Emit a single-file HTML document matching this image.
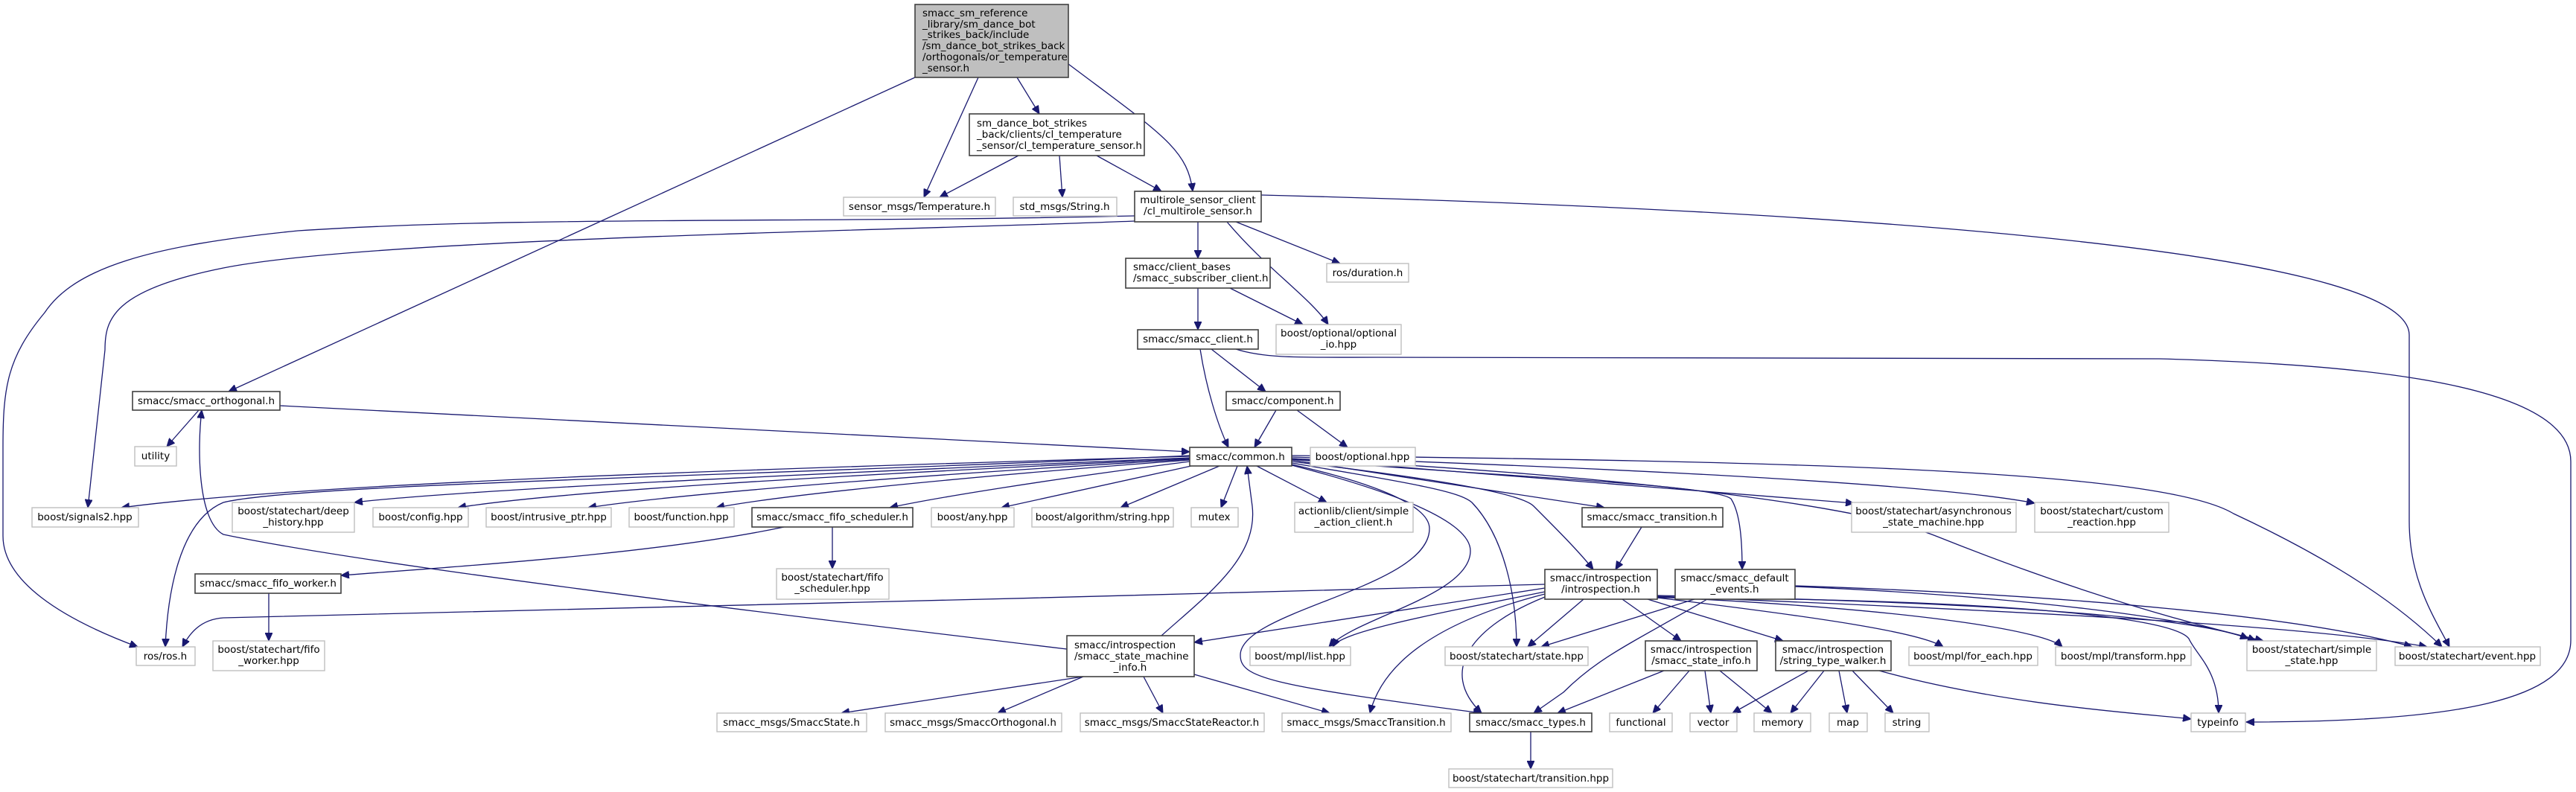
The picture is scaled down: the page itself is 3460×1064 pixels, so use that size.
<!DOCTYPE html>
<html><head><meta charset="utf-8"><style>
html,body{margin:0;padding:0;background:#fff}
svg{display:block}
text{font-family:"DejaVu Sans","Liberation Sans",sans-serif;font-size:13.5px;fill:#000}
.d{fill:#fff;stroke:#404040;stroke-width:1.6}
.e{fill:#fff;stroke:#bfbfbf;stroke-width:1.4}
.g{fill:#bfbfbf;stroke:#404040;stroke-width:1.6}
path.l{fill:none;stroke:#191970;stroke-width:1.3}
</style></head><body>
<svg width="3460" height="1064" viewBox="0 0 3460 1064" xmlns="http://www.w3.org/2000/svg">
<defs><marker id="a" markerUnits="userSpaceOnUse" markerWidth="12" markerHeight="10" refX="11" refY="5" orient="auto"><path d="M0,0 L11,5 L0,10 Z" fill="#191970" stroke="#191970"/></marker></defs>
<g marker-end="url(#a)">
<path class="l" d="M1314,104 L1241,265"/>
<path class="l" d="M1366,104 L1396,153"/>
<path class="l" d="M1435,86 C1560,180 1595,200 1602,257"/>
<path class="l" d="M1229,104 L307,526"/>
<path class="l" d="M1368,209 L1262,265"/>
<path class="l" d="M1423,209 L1427,265"/>
<path class="l" d="M1473,209 L1560,257"/>
<path class="l" d="M1609,298 L1609,347"/>
<path class="l" d="M1660,298 L1800,354"/>
<path class="l" d="M1648,298 C1700,360 1760,400 1784,436"/>
<path class="l" d="M1524,297 C1200,310 500,320 300,360 C150,390 141,430 141,470 L118,682"/>
<path class="l" d="M1524,290 C1100,300 700,290 400,310 C200,330 100,360 60,420 C10,480 4,520 4,600 L4,720 C4,780 80,830 185,869"/>
<path class="l" d="M1694,262 C2400,280 3236,330 3236,450 L3236,700 C3236,780 3270,830 3290,869"/>
<path class="l" d="M1609,387 L1609,443"/>
<path class="l" d="M1652,387 L1750,436"/>
<path class="l" d="M1660,469 C1700,482 1750,480 1850,480 L2900,482 C3200,490 3453,520 3453,620 L3453,860 C3453,940 3300,970 3017,970"/>
<path class="l" d="M1627,469 L1700,526"/>
<path class="l" d="M1612,469 C1620,520 1635,570 1650,601"/>
<path class="l" d="M1714,551 L1685,601"/>
<path class="l" d="M1742,551 L1810,601"/>
<path class="l" d="M267,551 L224,600"/>
<path class="l" d="M376,545 L1598,607"/>
<path class="l" d="M1598,613 C1000,630 400,650 163,682"/>
<path class="l" d="M1598,615 C1000,640 600,660 476,675"/>
<path class="l" d="M1598,616 C1100,640 750,660 615,682"/>
<path class="l" d="M1598,617 C1200,640 900,665 790,682"/>
<path class="l" d="M1598,618 C1300,640 1050,665 962,682"/>
<path class="l" d="M1598,620 C1400,645 1250,670 1195,682"/>
<path class="l" d="M1600,626 L1345,682"/>
<path class="l" d="M1638,626 L1505,682"/>
<path class="l" d="M1662,626 L1640,682"/>
<path class="l" d="M1688,626 L1782,675"/>
<path class="l" d="M1598,612 C1000,640 400,650 300,675 C240,700 225,800 222,869"/>
<path class="l" d="M1735,625 C1870,660 1975,700 1975,740 C1975,800 1820,830 1785,869"/>
<path class="l" d="M1735,624 C1850,650 1920,680 1920,710 C1920,790 1666,820 1666,880 C1666,910 1700,920 1990,958"/>
<path class="l" d="M1735,622 C1900,650 1960,660 1977,675 C2020,720 2037,800 2037,869"/>
<path class="l" d="M1735,620 C1900,640 2040,660 2060,680 C2090,710 2120,740 2140,765"/>
<path class="l" d="M1735,618 L2155,682"/>
<path class="l" d="M1735,617 C2000,640 2300,650 2325,670 C2338,690 2340,730 2340,765"/>
<path class="l" d="M1735,616 L2490,676"/>
<path class="l" d="M1735,614 C2200,630 2600,650 2733,676"/>
<path class="l" d="M1735,616 C2200,640 2500,680 2600,720 C2800,800 2950,840 3040,861"/>
<path class="l" d="M1735,612 C2400,620 2900,630 3000,690 C3150,760 3230,820 3280,869"/>
<path class="l" d="M1118,708 L1118,764"/>
<path class="l" d="M1053,708 C900,740 700,755 458,773"/>
<path class="l" d="M361,797 L361,861"/>
<path class="l" d="M1560,854 C1620,800 1690,750 1682,680 L1675,626"/>
<path class="l" d="M1433,872 C1000,820 500,760 300,718 C265,700 265,600 271,551"/>
<path class="l" d="M1455,909 L1130,958"/>
<path class="l" d="M1455,909 L1340,958"/>
<path class="l" d="M1536,909 L1562,958"/>
<path class="l" d="M1604,906 L1786,958"/>
<path class="l" d="M2075,785 C1500,800 800,820 300,830 C270,832 255,850 245,869"/>
<path class="l" d="M2075,790 L1604,863"/>
<path class="l" d="M2075,795 C1900,830 1800,850 1790,869"/>
<path class="l" d="M2075,798 C1950,830 1860,880 1840,958"/>
<path class="l" d="M2075,802 C1980,840 1930,900 1990,958"/>
<path class="l" d="M2127,805 L2052,869"/>
<path class="l" d="M2179,805 L2258,861"/>
<path class="l" d="M2213,805 L2395,861"/>
<path class="l" d="M2226,803 C2450,830 2580,850 2610,869"/>
<path class="l" d="M2226,802 C2600,820 2750,850 2770,869"/>
<path class="l" d="M2226,800 C2700,810 2950,830 3020,858"/>
<path class="l" d="M2226,801 C2700,820 3100,840 3260,869"/>
<path class="l" d="M2226,803 C2700,805 2920,830 2940,858 C2950,880 2980,900 2980,958"/>
<path class="l" d="M2205,708 L2170,765"/>
<path class="l" d="M2276,805 L2070,869"/>
<path class="l" d="M2293,805 C2200,860 2150,880 2100,930 L2060,958"/>
<path class="l" d="M2411,788 C2700,800 2950,830 3030,861"/>
<path class="l" d="M2411,787 C2800,800 3100,830 3240,869"/>
<path class="l" d="M2235,901 L2092,958"/>
<path class="l" d="M2269,901 L2220,958"/>
<path class="l" d="M2290,901 L2298,958"/>
<path class="l" d="M2310,901 L2380,958"/>
<path class="l" d="M2429,901 L2327,958"/>
<path class="l" d="M2450,901 L2405,958"/>
<path class="l" d="M2470,901 L2481,958"/>
<path class="l" d="M2488,901 L2543,958"/>
<path class="l" d="M2524,901 C2700,950 2900,960 2943,966"/>
<path class="l" d="M2056,983 L2056,1033"/>
</g>

<!-- nodes -->
<rect class="g" x="1229" y="6" width="206" height="98"/>
<text x="1239" y="22">smacc_sm_reference</text>
<text x="1239" y="37">_library/sm_dance_bot</text>
<text x="1239" y="51">_strikes_back/include</text>
<text x="1239" y="66">/sm_dance_bot_strikes_back</text>
<text x="1239" y="81">/orthogonals/or_temperature</text>
<text x="1239" y="96">_sensor.h</text>

<rect class="e" x="1133" y="265" width="204" height="25"/><text x="1235" y="282" text-anchor="middle">sensor_msgs/Temperature.h</text>
<rect class="d" x="1302" y="153" width="235" height="56"/>
<text x="1312" y="170">sm_dance_bot_strikes</text>
<text x="1312" y="185">_back/clients/cl_temperature</text>
<text x="1312" y="200">_sensor/cl_temperature_sensor.h</text>
<rect class="e" x="1361" y="265" width="139" height="25"/><text x="1430" y="282" text-anchor="middle">std_msgs/String.h</text>
<rect class="d" x="1524" y="257" width="170" height="41"/><text x="1609" y="273" text-anchor="middle">multirole_sensor_client</text><text x="1609" y="288" text-anchor="middle">/cl_multirole_sensor.h</text>
<rect class="d" x="1512" y="347" width="194" height="40"/><text x="1522" y="363">smacc/client_bases</text><text x="1522" y="378">/smacc_subscriber_client.h</text>
<rect class="e" x="1782" y="354" width="110" height="25"/><text x="1837" y="371" text-anchor="middle">ros/duration.h</text>
<rect class="e" x="1714" y="436" width="168" height="40"/><text x="1798" y="452" text-anchor="middle">boost/optional/optional</text><text x="1798" y="467" text-anchor="middle">_io.hpp</text>
<rect class="d" x="1528" y="443" width="162" height="26"/><text x="1609" y="460" text-anchor="middle">smacc/smacc_client.h</text>
<rect class="d" x="1647" y="526" width="153" height="25"/><text x="1723" y="543" text-anchor="middle">smacc/component.h</text>
<rect class="e" x="1760" y="601" width="141" height="25"/><text x="1830" y="618" text-anchor="middle">boost/optional.hpp</text>
<rect class="d" x="1598" y="601" width="137" height="25"/><text x="1666" y="618" text-anchor="middle">smacc/common.h</text>
<rect class="d" x="178" y="526" width="198" height="25"/><text x="277" y="543" text-anchor="middle">smacc/smacc_orthogonal.h</text>
<rect class="e" x="181" y="600" width="56" height="26"/><text x="209" y="617" text-anchor="middle">utility</text>
<rect class="e" x="43" y="682" width="143" height="26"/><text x="114" y="699" text-anchor="middle">boost/signals2.hpp</text>
<rect class="e" x="312" y="675" width="164" height="40"/><text x="394" y="691" text-anchor="middle">boost/statechart/deep</text><text x="394" y="706" text-anchor="middle">_history.hpp</text>
<rect class="e" x="501" y="682" width="128" height="26"/><text x="565" y="699" text-anchor="middle">boost/config.hpp</text>
<rect class="e" x="653" y="682" width="168" height="26"/><text x="737" y="699" text-anchor="middle">boost/intrusive_ptr.hpp</text>
<rect class="e" x="845" y="682" width="141" height="26"/><text x="915" y="699" text-anchor="middle">boost/function.hpp</text>
<rect class="d" x="1010" y="682" width="216" height="26"/><text x="1118" y="699" text-anchor="middle">smacc/smacc_fifo_scheduler.h</text>
<rect class="e" x="1251" y="682" width="111" height="26"/><text x="1306" y="699" text-anchor="middle">boost/any.hpp</text>
<rect class="e" x="1386" y="682" width="190" height="26"/><text x="1481" y="699" text-anchor="middle">boost/algorithm/string.hpp</text>
<rect class="e" x="1600" y="682" width="63" height="26"/><text x="1631" y="699" text-anchor="middle">mutex</text>
<rect class="e" x="1739" y="675" width="159" height="40"/><text x="1818" y="691" text-anchor="middle">actionlib/client/simple</text><text x="1818" y="706" text-anchor="middle">_action_client.h</text>
<rect class="d" x="2125" y="682" width="189" height="26"/><text x="2219" y="699" text-anchor="middle">smacc/smacc_transition.h</text>
<rect class="e" x="2487" y="675" width="221" height="40"/><text x="2597" y="691" text-anchor="middle">boost/statechart/asynchronous</text><text x="2597" y="706" text-anchor="middle">_state_machine.hpp</text>
<rect class="e" x="2733" y="675" width="180" height="40"/><text x="2823" y="691" text-anchor="middle">boost/statechart/custom</text><text x="2823" y="706" text-anchor="middle">_reaction.hpp</text>
<rect class="e" x="1043" y="764" width="151" height="41"/><text x="1118" y="780" text-anchor="middle">boost/statechart/fifo</text><text x="1118" y="795" text-anchor="middle">_scheduler.hpp</text>
<rect class="d" x="262" y="771" width="196" height="26"/><text x="360" y="788" text-anchor="middle">smacc/smacc_fifo_worker.h</text>
<rect class="d" x="2075" y="765" width="151" height="40"/><text x="2150" y="781" text-anchor="middle">smacc/introspection</text><text x="2150" y="796" text-anchor="middle">/introspection.h</text>
<rect class="d" x="2250" y="765" width="161" height="40"/><text x="2330" y="781" text-anchor="middle">smacc/smacc_default</text><text x="2330" y="796" text-anchor="middle">_events.h</text>
<rect class="e" x="183" y="869" width="79" height="25"/><text x="222" y="886" text-anchor="middle">ros/ros.h</text>
<rect class="e" x="286" y="861" width="150" height="40"/><text x="361" y="877" text-anchor="middle">boost/statechart/fifo</text><text x="361" y="892" text-anchor="middle">_worker.hpp</text>
<rect class="d" x="1433" y="854" width="171" height="55"/><text x="1443" y="871">smacc/introspection</text><text x="1443" y="886">/smacc_state_machine</text><text x="1518" y="901" text-anchor="middle">_info.h</text>
<rect class="e" x="1679" y="869" width="135" height="25"/><text x="1746" y="886" text-anchor="middle">boost/mpl/list.hpp</text>
<rect class="e" x="1941" y="869" width="192" height="25"/><text x="2037" y="886" text-anchor="middle">boost/statechart/state.hpp</text>
<rect class="d" x="2210" y="861" width="150" height="40"/><text x="2285" y="877" text-anchor="middle">smacc/introspection</text><text x="2285" y="892" text-anchor="middle">/smacc_state_info.h</text>
<rect class="d" x="2385" y="861" width="155" height="40"/><text x="2462" y="877" text-anchor="middle">smacc/introspection</text><text x="2462" y="892" text-anchor="middle">/string_type_walker.h</text>
<rect class="e" x="2564" y="869" width="173" height="25"/><text x="2650" y="886" text-anchor="middle">boost/mpl/for_each.hpp</text>
<rect class="e" x="2761" y="869" width="182" height="25"/><text x="2852" y="886" text-anchor="middle">boost/mpl/transform.hpp</text>
<rect class="e" x="3018" y="861" width="174" height="40"/><text x="3105" y="877" text-anchor="middle">boost/statechart/simple</text><text x="3105" y="892" text-anchor="middle">_state.hpp</text>
<rect class="e" x="3217" y="869" width="195" height="25"/><text x="3314" y="886" text-anchor="middle">boost/statechart/event.hpp</text>
<rect class="e" x="963" y="958" width="201" height="25"/><text x="1063" y="975" text-anchor="middle">smacc_msgs/SmaccState.h</text>
<rect class="e" x="1189" y="958" width="237" height="25"/><text x="1307" y="975" text-anchor="middle">smacc_msgs/SmaccOrthogonal.h</text>
<rect class="e" x="1451" y="958" width="247" height="25"/><text x="1574" y="975" text-anchor="middle">smacc_msgs/SmaccStateReactor.h</text>
<rect class="e" x="1722" y="958" width="227" height="25"/><text x="1835" y="975" text-anchor="middle">smacc_msgs/SmaccTransition.h</text>
<rect class="d" x="1974" y="958" width="164" height="25"/><text x="2056" y="975" text-anchor="middle">smacc/smacc_types.h</text>
<rect class="e" x="2162" y="958" width="84" height="25"/><text x="2204" y="975" text-anchor="middle">functional</text>
<rect class="e" x="2270" y="958" width="63" height="25"/><text x="2301" y="975" text-anchor="middle">vector</text>
<rect class="e" x="2356" y="958" width="76" height="25"/><text x="2394" y="975" text-anchor="middle">memory</text>
<rect class="e" x="2457" y="958" width="51" height="25"/><text x="2482" y="975" text-anchor="middle">map</text>
<rect class="e" x="2532" y="958" width="59" height="25"/><text x="2561" y="975" text-anchor="middle">string</text>
<rect class="e" x="2943" y="958" width="73" height="25"/><text x="2979" y="975" text-anchor="middle">typeinfo</text>
<rect class="e" x="1946" y="1033" width="220" height="25"/><text x="2056" y="1050" text-anchor="middle">boost/statechart/transition.hpp</text>
</svg>
</body></html>
